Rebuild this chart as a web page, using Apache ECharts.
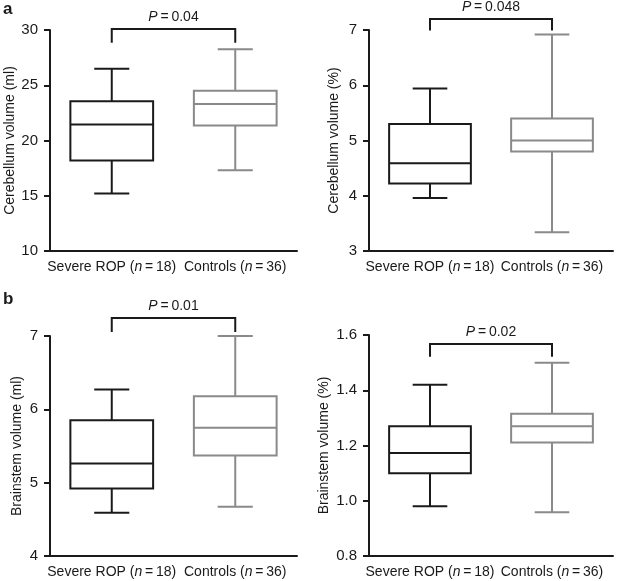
<!DOCTYPE html>
<html>
<head>
<meta charset="utf-8">
<script src="https://cdn.jsdelivr.net/npm/echarts@6/dist/echarts.min.js"></script>
<style>html,body{margin:0;padding:0;background:#fff}#c{width:617px;height:581px}</style>
</head>
<body>
<div id="c"></div>
<script>
// ---- data ----
const groups = ['Severe ROP', 'Controls'];
const groupN = [18, 36];
// [min, q1, median, q3, max]
const cerebMl  = [[15.2, 18.2, 21.45, 23.55, 26.5], [17.3, 21.35, 23.3, 24.5, 28.25]];
const cerebPct = [[3.96, 4.22, 4.59, 5.30, 5.94], [3.34, 4.80, 5.00, 5.40, 6.92]];
const brainMl  = [[4.59, 4.92, 5.26, 5.85, 6.27], [4.67, 5.37, 5.75, 6.18, 7.00]];
const brainPct = [[0.98, 1.10, 1.173, 1.27, 1.42], [0.958, 1.211, 1.27, 1.315, 1.50]];
const yTitles = ['Cerebellum volume (ml)', 'Cerebellum volume (%)', 'Brainstem volume (ml)', 'Brainstem volume (%)'];
const yMin = [10, 3, 4, 0.8];
const yMax = [30, 7, 7, 1.6];
const yStep = [5, 1, 1, 0.2];
const yDecimals = [0, 0, 0, 1];
const pValues = ['0.04', '0.048', '0.01', '0.02'];
const bracketTop = [30.09, 7.2, 7.245, 1.567];
const bracketBottom = [28.85, 6.99, 7.055, 1.521];
const panelLetters = ['a', 'b'];

const panels = [cerebMl, cerebPct, brainMl, brainPct];
const colors = ['#1a1a1a', '#8a8a8a'];
const FONT = '"Liberation Sans", Arial, Helvetica, sans-serif';

const gridPos = [
  {left: 50, top: 30, width: 247, height: 221},
  {left: 369, top: 30, width: 244, height: 221},
  {left: 50, top: 336, width: 247, height: 220},
  {left: 369, top: 335, width: 244, height: 221}
];
const nameGaps = [28, 28, 26, 38];

const chart = echarts.init(document.getElementById('c'), null, {renderer: 'canvas'});

function renderBox(params, api) {
  const ci = api.value(0);
  const bw = api.size([1, 0])[0];
  const half = bw * 0.335;
  const capHalf = bw * 0.142;
  const pMin = api.coord([ci, api.value(1)]);
  const pQ1 = api.coord([ci, api.value(2)]);
  const pMed = api.coord([ci, api.value(3)]);
  const pQ3 = api.coord([ci, api.value(4)]);
  const pMax = api.coord([ci, api.value(5)]);
  const x = pMed[0];
  const style = {stroke: colors[params.dataIndex], lineWidth: 2, fill: null};
  return {
    type: 'group',
    children: [
      {type: 'line', shape: {x1: x, y1: pMax[1], x2: x, y2: pQ3[1]}, style: style},
      {type: 'line', shape: {x1: x, y1: pQ1[1], x2: x, y2: pMin[1]}, style: style},
      {type: 'line', shape: {x1: x - capHalf, y1: pMax[1], x2: x + capHalf, y2: pMax[1]}, style: style},
      {type: 'line', shape: {x1: x - capHalf, y1: pMin[1], x2: x + capHalf, y2: pMin[1]}, style: style},
      {type: 'rect', shape: {x: x - half, y: pQ3[1], width: half * 2, height: pQ1[1] - pQ3[1]}, style: {stroke: colors[params.dataIndex], lineWidth: 2, fill: '#fff'}},
      {type: 'line', shape: {x1: x - half, y1: pMed[1], x2: x + half, y2: pMed[1]}, style: style}
    ]
  };
}

function makeBracketRenderer(k) {
  return function (params, api) {
    const a = api.coord([0, bracketBottom[k]]);
    const b = api.coord([1, bracketBottom[k]]);
    const t = api.coord([0, bracketTop[k]]);
    return {
      type: 'group',
      children: [
        {type: 'polyline', shape: {points: [[a[0], a[1]], [a[0], t[1]], [b[0], t[1]], [b[0], b[1]]]},
         style: {stroke: '#1a1a1a', lineWidth: 2, fill: null}},
        {type: 'text', x: (a[0] + b[0]) / 2, y: t[1] - 12,
         style: {text: '{i|P}{n|\u2009=\u20090' + pValues[k].slice(1) + '}', align: 'center', verticalAlign: 'middle',
           rich: {i: {fontStyle: 'italic', fontSize: 14, fontFamily: FONT, fill: '#1a1a1a'},
                  n: {fontSize: 14, fontFamily: FONT, fill: '#1a1a1a'}}}}
      ]
    };
  };
}

const grid = [], xAxis = [], yAxis = [], series = [];
panels.forEach((vals, k) => {
  grid.push(gridPos[k]);
  xAxis.push({
    type: 'category', gridIndex: k, data: groups.map((g, i) => g + '|' + groupN[i]),
    boundaryGap: true,
    axisLine: {lineStyle: {color: '#1a1a1a', width: 2}},
    axisTick: {alignWithLabel: true, length: 6, lineStyle: {color: '#1a1a1a', width: 2}},
    axisLabel: {
      margin: 9, interval: 0, fontSize: 14, fontFamily: FONT, color: '#1a1a1a',
      formatter: v => { const p = v.split('|'); return p[0] + ' ({i|n}\u2009=\u2009' + p[1] + ')'; },
      rich: {i: {fontStyle: 'italic', fontSize: 14, fontFamily: FONT, color: '#1a1a1a'}}
    },
    splitLine: {show: false}
  });
  yAxis.push({
    type: 'value', gridIndex: k, min: yMin[k], max: yMax[k], interval: yStep[k],
    name: yTitles[k], nameLocation: 'middle', nameRotate: 90,
    nameGap: nameGaps[k],
    nameTextStyle: {fontSize: 14, fontFamily: FONT, color: '#1a1a1a'},
    axisLine: {show: true, lineStyle: {color: '#1a1a1a', width: 2}},
    axisTick: {show: true, length: 6, lineStyle: {color: '#1a1a1a', width: 2}},
    axisLabel: {margin: 12, fontSize: 15, fontFamily: FONT, color: '#1a1a1a',
      formatter: v => Number(v).toFixed(yDecimals[k])},
    splitLine: {show: false}
  });
  series.push({
    type: 'custom', xAxisIndex: k, yAxisIndex: k,
    data: vals.map((r, i) => [i].concat(r)),
    encode: {x: 0, y: [1, 2, 3, 4, 5]},
    renderItem: renderBox, clip: false, silent: true, animation: false
  });
  series.push({
    type: 'custom', xAxisIndex: k, yAxisIndex: k,
    data: [[0, bracketTop[k]]],
    encode: {x: 0, y: 1},
    renderItem: makeBracketRenderer(k), clip: false, silent: true, animation: false
  });
});

chart.setOption({
  animation: false,
  backgroundColor: '#fff',
  grid: grid, xAxis: xAxis, yAxis: yAxis, series: series,
  graphic: [
    {type: 'text', left: 3, top: 1, style: {text: panelLetters[0], fontSize: 17, fontWeight: 'bold', fontFamily: FONT, fill: '#1a1a1a'}},
    {type: 'text', left: 3, top: 291, style: {text: panelLetters[1], fontSize: 17, fontWeight: 'bold', fontFamily: FONT, fill: '#1a1a1a'}}
  ]
});
</script>
</body>
</html>
